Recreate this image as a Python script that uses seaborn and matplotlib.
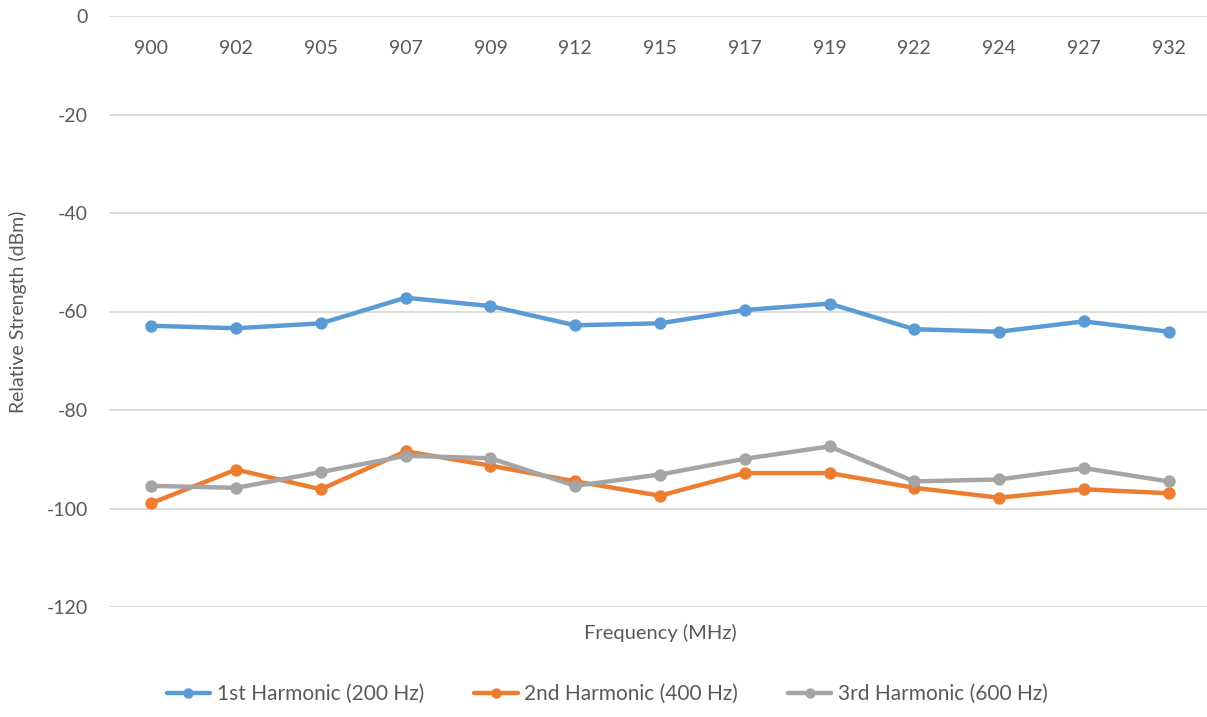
import matplotlib
matplotlib.use("Agg")
import matplotlib.pyplot as plt
import seaborn as sns
import pandas as pd
from matplotlib.lines import Line2D

frequencies = ["900", "902", "905", "907", "909", "912", "915", "917", "919", "922", "924", "927", "932"]
first_harmonic = [-62.9, -63.4, -62.4, -57.2, -58.9, -62.8, -62.4, -59.7, -58.4, -63.6, -64.1, -62.0, -64.1]
second_harmonic = [-98.9, -92.1, -96.1, -88.4, -91.3, -94.5, -97.4, -92.8, -92.8, -95.8, -97.8, -96.1, -96.9]
third_harmonic = [-95.4, -95.8, -92.6, -89.3, -89.8, -95.4, -93.1, -89.9, -87.4, -94.5, -94.1, -91.8, -94.5]
series_names = ["1st Harmonic (200 Hz)", "2nd Harmonic (400 Hz)", "3rd Harmonic (600 Hz)"]
y_ticks = [0, -20, -40, -60, -80, -100, -120]

colors = ["#5B9BD5", "#ED7D31", "#A5A5A5"]

rows = []
for name, vals in zip(series_names, [first_harmonic, second_harmonic, third_harmonic]):
    for f, v in zip(frequencies, vals):
        rows.append({"Frequency": f, "Value": v, "Series": name})
df = pd.DataFrame(rows)

sns.set_theme(style="white")
plt.rcParams["font.family"] = ["Lato", "DejaVu Sans"]
plt.rcParams["axes.unicode_minus"] = False

fig = plt.figure(figsize=(12.07, 7.17), dpi=100)
W, H = 1207, 717
left, right, top, bottom = 109, 1211, 16, 607
ax = fig.add_axes([left / W, 1 - bottom / H, (right - left) / W, (bottom - top) / H])

sns.pointplot(data=df, x="Frequency", y="Value", hue="Series", order=frequencies,
              hue_order=series_names, palette=colors, markers="o", dodge=False,
              errorbar=None, ax=ax, linewidth=3.2, markersize=6.5, legend=False)

ax.set_ylim(-120, 0)
ax.set_yticks(y_ticks)
ax.set_yticklabels([str(t) for t in y_ticks])
ax.set_xlim(-0.5, len(frequencies) - 0.5)
ax.yaxis.grid(True, color="#D9D9D9", linewidth=1.3)
ax.set_axisbelow(True)
for s in ax.spines.values():
    s.set_visible(False)
ax.spines["bottom"].set_position(("data", 0))

ax.tick_params(axis="x", length=0, pad=17, labelsize=14, labelcolor="#595959")
ax.tick_params(axis="y", length=0, pad=15, labelsize=14, labelcolor="#595959")

ax.set_xlabel("Frequency (MHz)", fontsize=14.5, color="#595959")
ax.xaxis.set_label_coords(0.5, -0.029)
ax.set_ylabel("Relative Strength (dBm)", fontsize=14, color="#595959")
ax.yaxis.set_label_coords(-0.074, 0.5)

handles = [Line2D([0], [0], color=c, lw=3.2, marker="o", markersize=6.5) for c in colors]
fig.legend(handles, series_names, loc="center", bbox_to_anchor=(0.503, 1 - 694 / H),
           ncol=3, frameon=False, fontsize=15, labelcolor="#595959",
           handlelength=2.1, handletextpad=0.3, columnspacing=2.4)

fig.savefig("out.png", dpi=100)
